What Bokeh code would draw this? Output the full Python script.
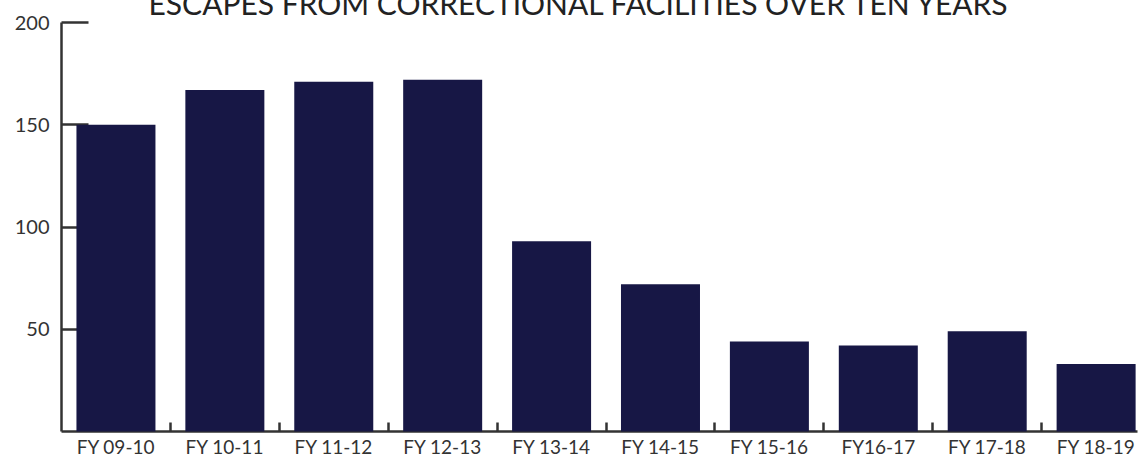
from bokeh.plotting import figure
from bokeh.models import Range1d, FixedTicker, ColumnDataSource
from bokeh.embed import file_html
from bokeh.resources import INLINE

categories = ["FY 09-10", "FY 10-11", "FY 11-12", "FY 12-13", "FY 13-14",
              "FY 14-15", "FY 15-16", "FY16-17", "FY 17-18", "FY 18-19"]
escapes = [150, 167, 171, 172, 93, 72, 44, 42, 49, 33]
y_ticks = [50, 100, 150, 200]
title_text = "ESCAPES FROM CORRECTIONAL FACILITIES OVER TEN YEARS"

xs = [i + 0.5 for i in range(len(categories))]
src = ColumnDataSource(dict(x=xs, top=escapes, cat=categories))

p = figure(width=1143, height=479, output_backend="svg", toolbar_location=None,
           x_range=Range1d(0, 9.88), y_range=Range1d(0, 200),
           min_border_left=61, min_border_right=6, min_border_top=0, min_border_bottom=0)
p.styles = {"margin-top": "-19px"}

p.title.text = title_text
p.title.text_font = "Lato"
p.title.text_font_size = "30px"
p.title.text_font_style = "normal"
p.title.text_color = "#222222"
p.title.align = "left"
p.title.offset = 87
p.title.standoff = 3

p.vbar(x="x", top="top", width=0.7254, bottom=0, source=src,
       fill_color="#171745", line_color=None, level="annotation")

p.grid.visible = False
p.outline_line_color = None
p.background_fill_color = "white"

xa = p.xaxis[0]
xa.ticker = FixedTicker(ticks=xs, minor_ticks=[1, 2, 3, 4, 5, 6, 7, 8, 9])
xa.major_label_overrides = {x: c for x, c in zip(xs, categories)}
xa.major_tick_line_color = None
xa.major_tick_in = 0
xa.major_tick_out = 0
xa.minor_tick_in = 9
xa.minor_tick_out = 0
xa.minor_tick_line_color = "#333333"
xa.minor_tick_line_width = 2.5
xa.axis_line_color = "#333333"
xa.axis_line_width = 2.5
xa.major_label_text_font = "Lato"
xa.major_label_text_font_size = "19px"
xa.major_label_text_color = "#333333"
xa.major_label_standoff = 3

ya = p.yaxis[0]
ya.ticker = FixedTicker(ticks=y_ticks)
ya.major_tick_in = 27
ya.major_tick_out = 0
ya.major_tick_line_color = "#333333"
ya.major_tick_line_width = 2.5
ya.minor_tick_line_color = None
ya.axis_line_color = "#333333"
ya.axis_line_width = 2.5
ya.major_label_text_font = "Lato"
ya.major_label_text_font_size = "20px"
ya.major_label_text_color = "#333333"
ya.major_label_standoff = 12

open("out.html", "w").write(file_html(p, INLINE))
